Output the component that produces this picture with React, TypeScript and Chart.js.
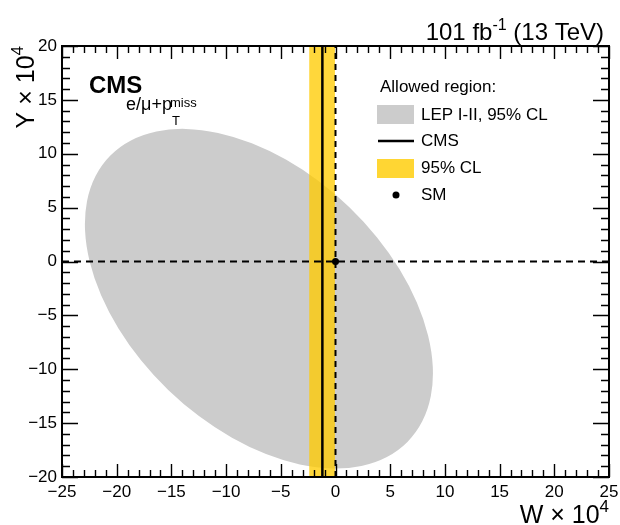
import React, { useEffect, useRef } from "react";
import { Chart, registerables } from "chart.js";

Chart.register(...registerables);

// ---- data ----
const X_MIN = -25;
const X_MAX = 25;
const Y_MIN = -20;
const Y_MAX = 20;
const TICK_STEP = 5;
const MINOR_STEP = 1;

// LEP I-II 95% CL allowed ellipse (data units)
const LEP_CENTER = [-7.0, -3.45];
const LEP_SEMI_AXES = [19.0, 11.85];
const LEP_ANGLE_DEG = -44.4;

// CMS result
const CMS_BEST_W = -1.2;
const CMS_CL95_W = [-2.4, -0.05];

// Standard model point
const SM_POINT = [0, 0];

const LEGEND_HEADER = "Allowed region:";
const LEGEND_LABELS = ["LEP I-II, 95% CL", "CMS", "95% CL", "SM"];

const FONT = "'Liberation Sans', Arial, Helvetica, sans-serif";
const GRAY = "#cccccc";
const YELLOW_BAND = "rgba(255, 203, 0, 0.77)";
const YELLOW_LEG = "#ffd633";

type Run = { t: string; size: number; dy?: number; bold?: boolean };

function drawRuns(ctx: CanvasRenderingContext2D, runs: Run[], x: number, y: number, align: "left" | "right") {
  ctx.save();
  ctx.textBaseline = "alphabetic";
  ctx.textAlign = "left";
  let total = 0;
  const widths = runs.map((r) => {
    ctx.font = `${r.bold ? "bold " : ""}${r.size}px ${FONT}`;
    const w = ctx.measureText(r.t).width;
    total += w;
    return w;
  });
  let cx = align === "right" ? x - total : x;
  runs.forEach((r, i) => {
    ctx.font = `${r.bold ? "bold " : ""}${r.size}px ${FONT}`;
    ctx.fillText(r.t, cx, y + (r.dy || 0));
    cx += widths[i];
  });
  ctx.restore();
}

const backgroundPlugin = {
  id: "lepAndBand",
  beforeDatasetsDraw(chart: any) {
    const { ctx, chartArea } = chart;
    const xs = chart.scales.x;
    const ys = chart.scales.y;
    ctx.save();
    ctx.beginPath();
    ctx.rect(chartArea.left, chartArea.top, chartArea.right - chartArea.left, chartArea.bottom - chartArea.top);
    ctx.clip();
    // ellipse
    const cx = xs.getPixelForValue(LEP_CENTER[0]);
    const cy = ys.getPixelForValue(LEP_CENTER[1]);
    const sx = xs.getPixelForValue(1) - xs.getPixelForValue(0);
    const sy = ys.getPixelForValue(1) - ys.getPixelForValue(0);
    ctx.save();
    ctx.translate(cx, cy);
    ctx.scale(sx, sy);
    ctx.rotate((LEP_ANGLE_DEG * Math.PI) / 180);
    ctx.beginPath();
    ctx.ellipse(0, 0, LEP_SEMI_AXES[0], LEP_SEMI_AXES[1], 0, 0, Math.PI * 2);
    ctx.restore();
    ctx.fillStyle = GRAY;
    ctx.fill();
    // yellow band
    const x1 = xs.getPixelForValue(CMS_CL95_W[0]);
    const x2 = xs.getPixelForValue(CMS_CL95_W[1]);
    ctx.fillStyle = YELLOW_BAND;
    ctx.fillRect(x1, chartArea.top, x2 - x1, chartArea.bottom - chartArea.top);
    ctx.restore();
  },
};

const framePlugin = {
  id: "frameTexts",
  afterDraw(chart: any) {
    const { ctx, chartArea } = chart;
    const xs = chart.scales.x;
    const ys = chart.scales.y;
    const { left, right, top, bottom } = chartArea;
    ctx.save();
    ctx.strokeStyle = "#000";
    // ticks
    ctx.lineWidth = 1.4;
    ctx.beginPath();
    for (let v = X_MIN; v <= X_MAX + 1e-9; v += MINOR_STEP) {
      const px = Math.round(xs.getPixelForValue(v)) + 0.5;
      const major = Math.abs(v % TICK_STEP) < 1e-9;
      const len = major ? 13 : 7;
      ctx.moveTo(px, bottom);
      ctx.lineTo(px, bottom - len);
      ctx.moveTo(px, top);
      ctx.lineTo(px, top + len);
    }
    for (let v = Y_MIN; v <= Y_MAX + 1e-9; v += MINOR_STEP) {
      const py = Math.round(ys.getPixelForValue(v)) + 0.5;
      const major = Math.abs(v % TICK_STEP) < 1e-9;
      const len = major ? 16 : 8;
      ctx.moveTo(left, py);
      ctx.lineTo(left + len, py);
      ctx.moveTo(right, py);
      ctx.lineTo(right - len, py);
    }
    ctx.stroke();
    // frame
    ctx.lineWidth = 2;
    ctx.strokeRect(left, top, right - left, bottom - top);
    ctx.fillStyle = "#000";

    // top-right luminosity label
    drawRuns(ctx, [
      { t: "101 fb", size: 24 },
      { t: "-1", size: 16, dy: -10 },
      { t: " (13 TeV)", size: 24 },
    ], 604, 40, "right");

    // x title
    drawRuns(ctx, [
      { t: "W \u00d7 10", size: 25 },
      { t: "4", size: 17, dy: -11 },
    ], 609, 523, "right");

    // y title (rotated)
    ctx.save();
    ctx.translate(34, 46);
    ctx.rotate(-Math.PI / 2);
    drawRuns(ctx, [
      { t: "Y \u00d7 10", size: 25 },
      { t: "4", size: 17, dy: -11 },
    ], 0, 0, "right");
    ctx.restore();

    // CMS label
    drawRuns(ctx, [{ t: "CMS", size: 24, bold: true }], 89, 93, "left");
    drawRuns(ctx, [{ t: "e/\u03bc+p", size: 18 }], 126, 110, "left");
    drawRuns(ctx, [{ t: "miss", size: 13 }], 170, 107, "left");
    drawRuns(ctx, [{ t: "T", size: 13 }], 172, 125, "left");

    // legend
    ctx.font = `17px ${FONT}`;
    ctx.textBaseline = "middle";
    ctx.textAlign = "left";
    ctx.fillText(LEGEND_HEADER, 380, 87);
    const rows = [115, 141, 168, 195];
    LEGEND_LABELS.forEach((lab, i) => ctx.fillText(lab, 421, rows[i]));
    ctx.fillStyle = GRAY;
    ctx.fillRect(377, 105, 37, 19);
    ctx.strokeStyle = "#000";
    ctx.lineWidth = 2.5;
    ctx.beginPath();
    ctx.moveTo(378, 141);
    ctx.lineTo(414, 141);
    ctx.stroke();
    ctx.fillStyle = YELLOW_LEG;
    ctx.fillRect(377, 159, 37, 19);
    ctx.fillStyle = "#000";
    ctx.beginPath();
    ctx.arc(396, 195, 3.5, 0, Math.PI * 2);
    ctx.fill();
    ctx.restore();
  },
};

const fmt = (v: number | string) => String(v).replace("-", "\u2212");

export default function App() {
  const ref = useRef<HTMLCanvasElement | null>(null);
  useEffect(() => {
    document.body.style.margin = "0";
    const canvas = ref.current;
    if (!canvas) return;
    const chart = new Chart(canvas, {
      type: "scatter",
      data: {
        datasets: [
          {
            data: [{ x: X_MIN, y: SM_POINT[1] }, { x: X_MAX, y: SM_POINT[1] }],
            showLine: true,
            borderColor: "#000",
            borderWidth: 2,
            borderDash: [7, 5],
            pointRadius: 0,
          },
          {
            data: [{ x: SM_POINT[0], y: Y_MIN }, { x: SM_POINT[0], y: Y_MAX }],
            showLine: true,
            borderColor: "#000",
            borderWidth: 2,
            borderDash: [6, 5],
            pointRadius: 0,
          },
          {
            data: [{ x: CMS_BEST_W, y: Y_MIN }, { x: CMS_BEST_W, y: Y_MAX }],
            showLine: true,
            borderColor: "#000",
            borderWidth: 2.5,
            pointRadius: 0,
          },
          {
            data: [{ x: SM_POINT[0], y: SM_POINT[1] }],
            showLine: false,
            pointRadius: 3.5,
            pointBackgroundColor: "#000",
            pointBorderColor: "#000",
            borderWidth: 0,
          },
        ],
      },
      options: {
        animation: false,
        responsive: false,
        devicePixelRatio: 1,
        layout: { padding: { top: 46, right: 11, left: 0, bottom: 0 } },
        plugins: { legend: { display: false }, tooltip: { enabled: false } },
        scales: {
          x: {
            type: "linear",
            min: X_MIN,
            max: X_MAX,
            grid: { display: false, drawTicks: false },
            border: { display: false },
            ticks: {
              stepSize: TICK_STEP,
              color: "#000",
              padding: 5,
              maxRotation: 0,
              font: { family: FONT, size: 17 },
              callback: (v: any) => fmt(v),
            },
            afterFit: (s: any) => {
              s.height = 48;
              s.paddingLeft = 0;
              s.paddingRight = 0;
            },
          },
          y: {
            type: "linear",
            min: Y_MIN,
            max: Y_MAX,
            grid: { display: false, drawTicks: false },
            border: { display: false },
            ticks: {
              stepSize: TICK_STEP,
              color: "#000",
              padding: 5,
              font: { family: FONT, size: 17 },
              callback: (v: any) => fmt(v),
            },
            afterFit: (s: any) => {
              s.width = 62;
              s.paddingTop = 0;
              s.paddingBottom = 0;
            },
          },
        },
      },
      plugins: [backgroundPlugin, framePlugin],
    } as any);
    return () => chart.destroy();
  }, []);
  return (
    <div style={{ width: 620, height: 525, background: "#fff" }}>
      <canvas ref={ref} width={620} height={525} style={{ display: "block" }} />
    </div>
  );
}
